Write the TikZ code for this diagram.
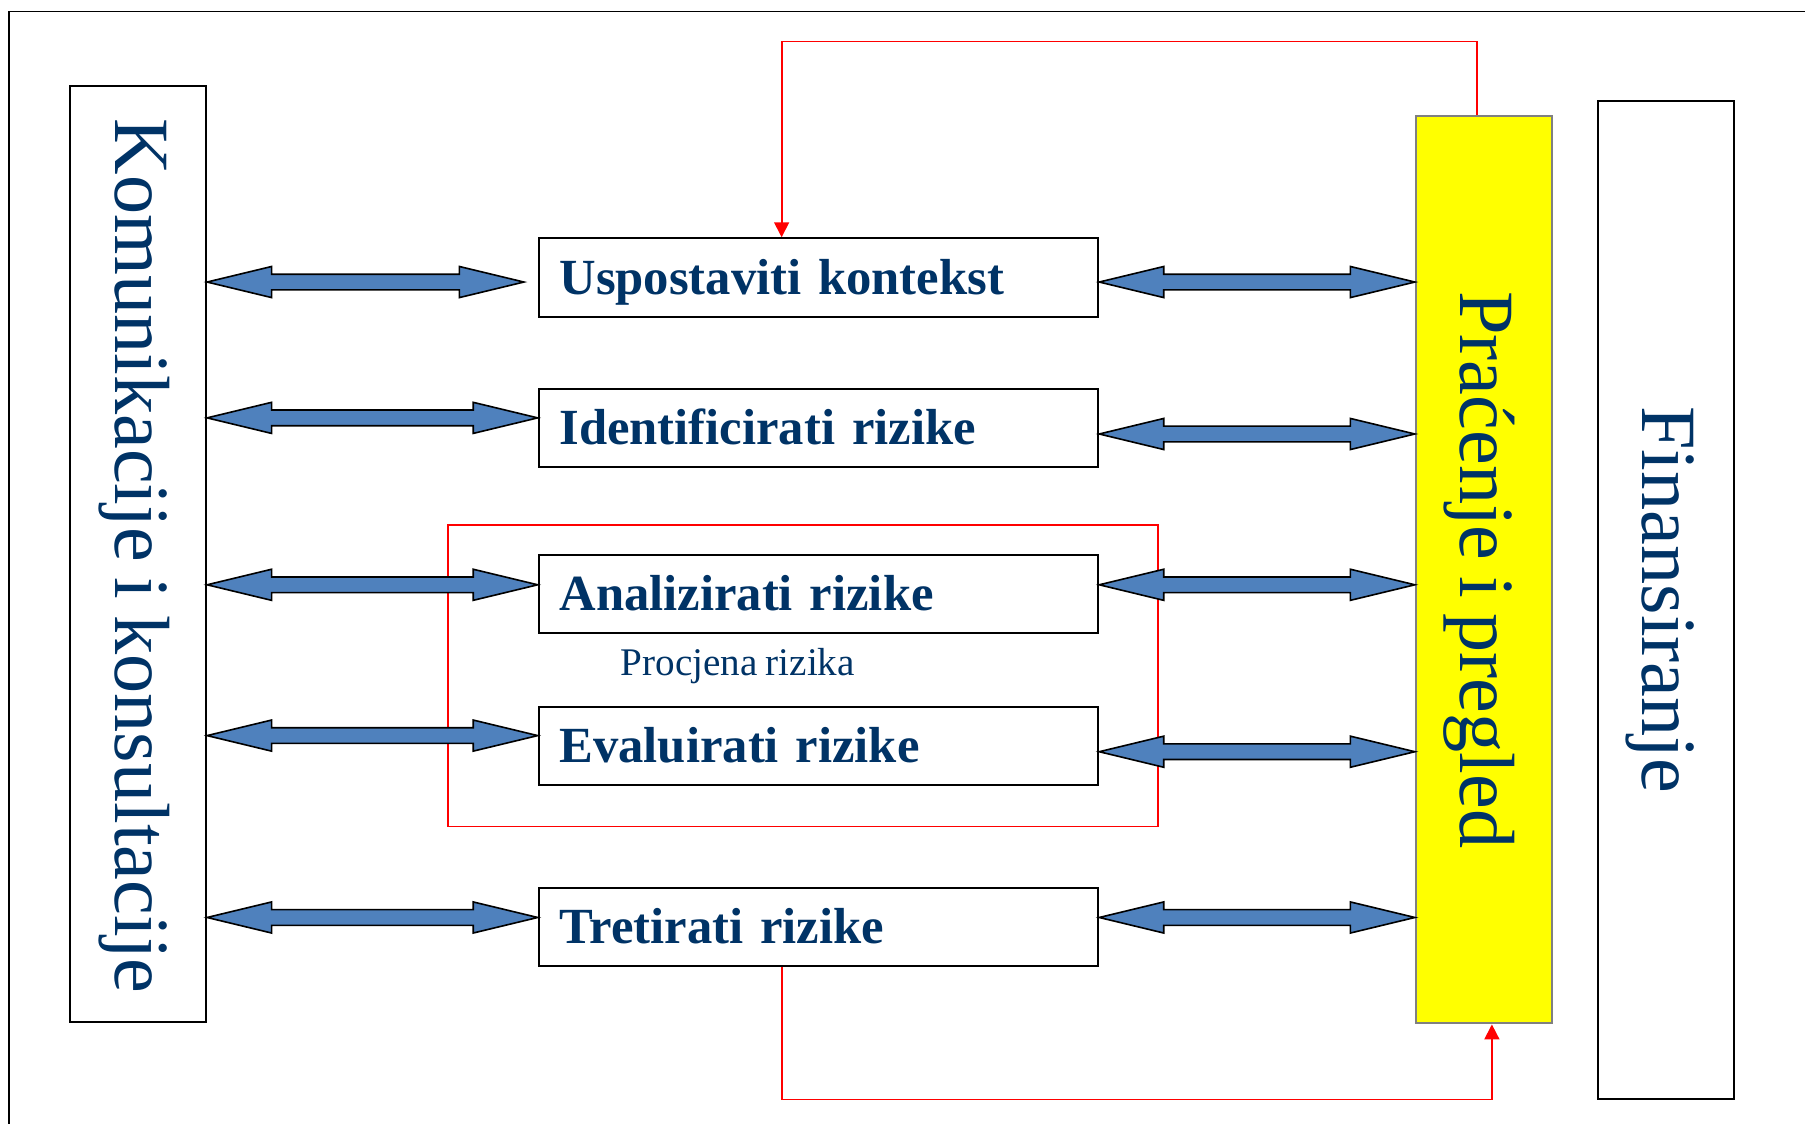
\documentclass[tikz,border=0pt]{standalone}
\usepackage{fontspec}
\setmainfont{Liberation Serif}[WordSpace=0.8]
\usetikzlibrary{calc,arrows.meta}
\definecolor{txtblue}{RGB}{0,51,102}
\definecolor{arrblue}{HTML}{4F81BD}
\definecolor{pracgray}{RGB}{128,128,128}
\definecolor{pracyellow}{RGB}{255,255,0}
\newcommand\dblarrow[2]{%
  \path[blockarrow] let \p1=#1, \p2=#2 in
   (\x1,\y1) -- (\x1+28pt,\y1+6.75pt) -- (\x1+28pt,\y1+3.4pt) -- (\x2-28pt,\y1+3.4pt) -- (\x2-28pt,\y1+6.75pt) -- (\x2,\y1) -- (\x2-28pt,\y1-6.75pt) -- (\x2-28pt,\y1-3.4pt) -- (\x1+28pt,\y1-3.4pt) -- (\x1+28pt,\y1-6.75pt) -- cycle;}
\begin{document}
\begin{tikzpicture}[x=0.5pt,y=-0.5pt,
  frame/.style={draw=black,line width=0.8pt},
  sidebox/.style={draw=black,line width=0.9pt,fill=white,inner sep=0pt},
  procbox/.style={draw=black,line width=0.9pt,fill=white,inner xsep=9pt,inner ysep=0pt,text width=225pt,align=left,minimum height=34pt,text height=16pt,text depth=1.6pt,font=\fontsize{22}{27}\selectfont\bfseries,text=txtblue},
  vlabel/.style={rotate=-90,anchor=base,inner sep=0pt,font=\fontsize{34}{40}\selectfont,text=txtblue},
  blockarrow/.style={draw=black,line width=0.7pt,fill=arrblue,line join=miter},
  redline/.style={draw=red,line width=0.75pt},
  redarrow/.style={redline,-{Triangle[length=6.5pt,width=6.5pt]}}
]
\useasboundingbox (0,0) rectangle (1568,976);
\draw[frame] (8,990) -- (8,10) -- (1580,10);

% side boxes
\node[sidebox,minimum width=59pt,minimum height=406.5pt] (komm) at (120,481.5) {};
\node[sidebox,draw=pracgray,fill=pracyellow,minimum width=59pt,minimum height=394pt] (prac) at (1289,495) {};
\node[sidebox,minimum width=59pt,minimum height=433.5pt] (fin) at (1447,521.5) {};

\node[vlabel] (kommtxt) at (100,483) {Komunikacije i konsultacije};
\node[vlabel] (practxt) at (1268.6,495) {Praćenje i pregled};
\node[vlabel] (fintxt) at (1427,521) {Finansiranje};

% assessment frame
\node[draw=red,line width=0.75pt,minimum width=308.5pt,minimum height=131pt,inner sep=0pt] (assess) at (697.5,587) {};
\node[font=\fontsize{17}{20}\selectfont,text=txtblue,anchor=base,inner sep=0pt] (proc) at (641,587) {Procjena rizika};

% process boxes
\node[procbox] (usp) at (711,241) {Uspostaviti kontekst};
\node[procbox] (ide) at (711,372) {Identificirati rizike};
\node[procbox] (ana) at (711,516) {Analizirati rizike};
\node[procbox] (eva) at (711,648) {Evaluirati rizike};
\node[procbox] (tre) at (711,805) {Tretirati rizike};

% double arrows
\dblarrow{(komm.east |- 0,245)}{([xshift=-6pt]usp.west)}
\dblarrow{(komm.east |- 0,363)}{(ide.west)}
\dblarrow{(komm.east |- 0,508)}{(ana.west)}
\dblarrow{(komm.east |- 0,639)}{(eva.west)}
\dblarrow{(komm.east |- 0,797)}{(tre.west)}
\dblarrow{(usp.east |- 0,245)}{(prac.west)}
\dblarrow{(ide.east |- 0,377)}{(prac.west)}
\dblarrow{(ana.east |- 0,508)}{(prac.west)}
\dblarrow{(eva.east |- 0,653)}{(prac.west)}
\dblarrow{(tre.east |- 0,797)}{(prac.west)}

% red feedback connectors
\coordinate (rtop) at (679,36);
\coordinate (rbot) at (679,955);
\draw[redarrow] ([xshift=-3pt]prac.north) |- (rtop) -- ([xshift=-16pt]usp.north);
\draw[redarrow] ([xshift=-16pt]tre.south) -- (rbot) -| ([xshift=3.5pt]prac.south);
\end{tikzpicture}
\end{document}
